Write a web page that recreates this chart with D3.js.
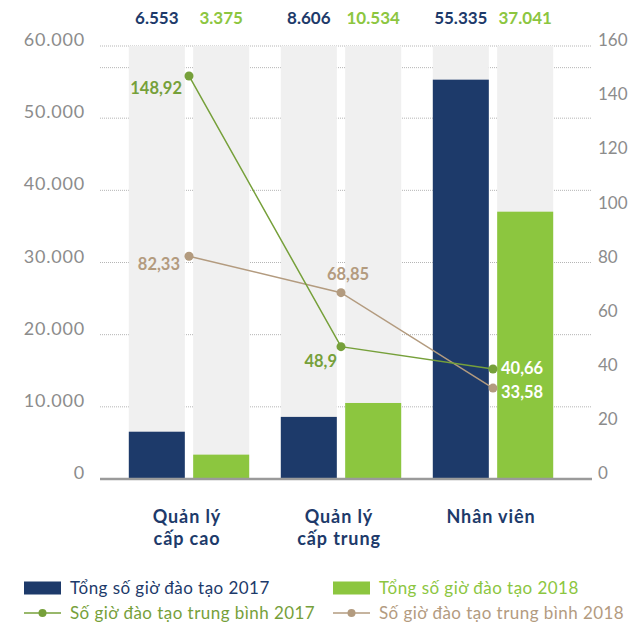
<!DOCTYPE html>
<html><head><meta charset="utf-8">
<script src="https://cdn.jsdelivr.net/npm/d3@7"></script>
<style>
html,body{margin:0;padding:0;background:#fff;}
svg{display:block;font-family:Lato,"Noto Sans",sans-serif;}
</style></head>
<body>
<svg id="chart" width="630" height="628"></svg>
<script>
const categories = [["Quản lý","cấp cao"],["Quản lý","cấp trung"],["Nhân viên"]];
const catKeys = ["Quản lý cấp cao","Quản lý cấp trung","Nhân viên"];
const years = ["2017","2018"];
const total2017 = [6553, 8606, 55335];
const total2018 = [3375, 10534, 37041];
const avg2017 = [148.92, 48.9, 40.66];
const avg2018 = [82.33, 68.85, 33.58];
const leftTicks = [0,10000,20000,30000,40000,50000,60000];
const rightTicks = [0,20,40,60,80,100,120,140,160];
const extraGrid = [57000];
const legendLabels = ["Tổng số giờ đào tạo 2017","Tổng số giờ đào tạo 2018","Số giờ đào tạo trung bình 2017","Số giờ đào tạo trung bình 2018"];

(function(){
const NAVY="#1d3a6a", GREEN="#8cc63f", OLIVE="#76a03a", BROWN="#b39b7f", GRAY="#8c8c8c";
const vi = d3.formatLocale({decimal:",",thousands:".",grouping:[3],currency:["",""]});
const fmtInt = vi.format(",d");
const fmtDec = v => vi.format(",")(v);

const svg = d3.select("#chart");
const pTop = 46, pBottom = 479, pLeft = 100, pRight = 592;
const yL = d3.scaleLinear().domain([0,60000]).range([pBottom, pTop]);
const yR = d3.scaleLinear().domain([0,160]).range([pBottom, pTop]);
const x0 = d3.scaleBand().domain(catKeys).range([113,569]).paddingInner(0.208).paddingOuter(0.104);
const x1 = d3.scaleBand().domain(years).range([0,x0.bandwidth()]).paddingInner(0.13);

// gridlines
svg.append("g").selectAll("line").data(leftTicks.filter(d=>d>0).concat(extraGrid)).join("line")
  .attr("x1",pLeft).attr("x2",pRight).attr("y1",d=>yL(d)).attr("y2",d=>yL(d))
  .attr("stroke","#b5b5b5").attr("stroke-width",1).attr("stroke-dasharray","1,1");

// background bars
const groups = svg.append("g").selectAll("g").data(catKeys).join("g")
  .attr("transform",d=>`translate(${x0(d)},0)`);
groups.selectAll("rect.bg").data(years).join("rect").attr("class","bg")
  .attr("x",d=>x1(d)).attr("width",x1.bandwidth())
  .attr("y",yL(60000)).attr("height",yL(0)-yL(60000)).attr("fill","#f0f0f0");
groups.selectAll("rect.val").data((d,i)=>[{y:"2017",v:total2017[i]},{y:"2018",v:total2018[i]}]).join("rect").attr("class","val")
  .attr("x",d=>x1(d.y)).attr("width",x1.bandwidth())
  .attr("y",d=>yL(d.v)).attr("height",d=>yL(0)-yL(d.v))
  .attr("fill",d=>d.y==="2017"?NAVY:GREEN);
groups.selectAll("text.top").data((d,i)=>[{y:"2017",v:total2017[i]},{y:"2018",v:total2018[i]}]).join("text").attr("class","top")
  .attr("x",d=>x1(d.y)+x1.bandwidth()/2).attr("y",24)
  .attr("text-anchor","middle").attr("font-size",17).attr("font-weight",700)
  .attr("fill",d=>d.y==="2017"?NAVY:GREEN).text(d=>fmtInt(d.v));

// baseline
svg.append("line").attr("x1",pLeft).attr("x2",pRight).attr("y1",yL(0)).attr("y2",yL(0))
  .attr("stroke","#9a9a9a").attr("stroke-width",2.5);

// axes labels
const axL = svg.append("g").attr("transform",`translate(${pLeft},0)`)
  .call(d3.axisLeft(yL).tickValues(leftTicks).tickFormat(fmtInt).tickSize(0).tickPadding(15));
axL.select(".domain").remove();
axL.selectAll("text").attr("font-size",18).attr("letter-spacing",0.8).attr("fill",GRAY).attr("dy","-0.02em").attr("font-family","Lato");
const axR = svg.append("g").attr("transform",`translate(${pRight},0)`)
  .call(d3.axisRight(yR).tickValues(rightTicks).tickSize(0).tickPadding(6));
axR.select(".domain").remove();
axR.selectAll("text").attr("font-size",17).attr("fill",GRAY).attr("dy","-0.02em").attr("font-family","Lato");

// category labels
svg.append("g").selectAll("text").data(categories).join("text")
  .attr("x",(d,i)=>x0(catKeys[i])+x0.bandwidth()/2-2).attr("y",523)
  .attr("text-anchor","middle").attr("font-size",18).attr("letter-spacing",0.9).attr("font-weight",700).attr("fill",NAVY)
  .selectAll("tspan").data(d=>d).join("tspan")
  .attr("x",function(){return this.parentNode.getAttribute("x");})
  .attr("dy",(d,i)=>i?22:0).text(d=>d);

// lines
const cx = i => x0(catKeys[i]) + x0.bandwidth()/2;
const line = d3.line().x((d,i)=>cx(i)).y(d=>yR(d));
svg.append("path").attr("d",line(avg2018)).attr("fill","none").attr("stroke",BROWN).attr("stroke-width",1.5);
svg.append("path").attr("d",line(avg2017)).attr("fill","none").attr("stroke",OLIVE).attr("stroke-width",1.5);
svg.append("g").selectAll("circle").data(avg2018).join("circle").attr("cx",(d,i)=>cx(i)).attr("cy",d=>yR(d)).attr("r",4.5).attr("fill",BROWN);
svg.append("g").selectAll("circle").data(avg2017).join("circle").attr("cx",(d,i)=>cx(i)).attr("cy",d=>yR(d)).attr("r",4.5).attr("fill",OLIVE);

// point labels
const lab = (v,i,dx,dy,anchor,color) => svg.append("text").attr("x",cx(i)+dx).attr("y",yR(v)+dy)
  .attr("text-anchor",anchor).attr("font-size",16.5).attr("font-weight",700).attr("fill",color).text(fmtDec(v));
lab(avg2017[0],0,-7,18,"end",OLIVE);
lab(avg2017[1],1,-4,20,"end",OLIVE);
lab(avg2017[2],2,8,5,"start","#fff");
lab(avg2018[0],0,-9,14,"end",BROWN);
lab(avg2018[1],1,7,-13,"middle",BROWN);
lab(avg2018[2],2,8,10,"start","#fff");

// legend
const lg = svg.append("g");
const lx = [24,333], ly = [588,613];
[[0,0],[1,0],[0,1],[1,1]].forEach(([c,r],k)=>{
  const col = [NAVY,GREEN,OLIVE,BROWN][k];
  if(r===0){
    lg.append("rect").attr("x",lx[c]).attr("y",ly[r]-6.5).attr("width",37).attr("height",13).attr("fill",col);
  } else {
    lg.append("line").attr("x1",lx[c]).attr("x2",lx[c]+37).attr("y1",ly[r]).attr("y2",ly[r]).attr("stroke",col).attr("stroke-width",1.5);
    lg.append("circle").attr("cx",lx[c]+18.5).attr("cy",ly[r]).attr("r",4).attr("fill",col);
  }
  lg.append("text").attr("x",lx[c]+46).attr("y",ly[r]).attr("dy","0.35em")
    .attr("font-size",17).attr("letter-spacing",0.45).attr("fill",k===0?NAVY:col).text(legendLabels[k]);
});
})();
</script>
</body></html>
